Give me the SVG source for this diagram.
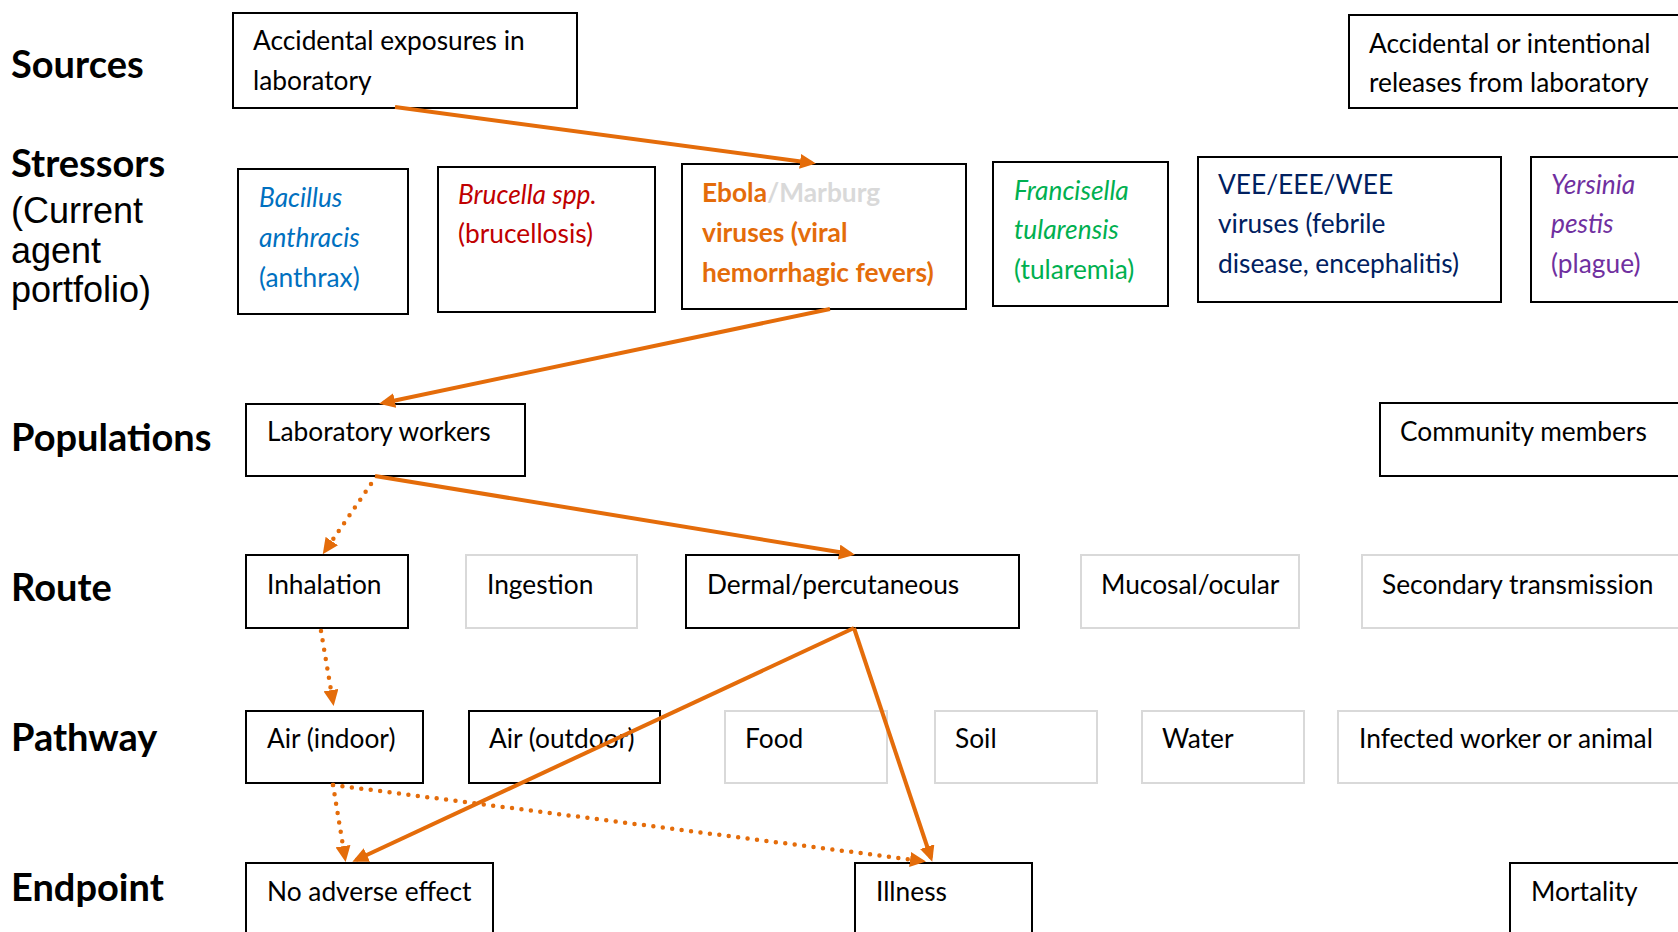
<svg xmlns="http://www.w3.org/2000/svg" width="1678" height="932" viewBox="0 0 1678 932">
  <style>
    .row { font-family: Lato, "Open Sans", sans-serif; font-weight: 700; font-size: 38px; fill: #000; }
    .sub { font-family: "Liberation Sans", Arial, sans-serif; font-size: 36px; fill: #000; }
    .t { font-family: Lato, "Open Sans", sans-serif; font-size: 26.3px; }
    .k { fill: #000; }
    .blue { fill: #0070c0; }
    .red { fill: #c00000; }
    .orange { fill: #e46c0a; font-weight: 700; }
    .grey { fill: #d9d9d9; }
    .green { fill: #00b050; }
    .navy { fill: #002060; }
    .purple { fill: #7030a0; }
    .it { font-style: italic; }
    .box { fill: #fff; stroke: #000; stroke-width: 2; }
    .gbox { fill: #fff; stroke: #d9d9d9; stroke-width: 2; }
    .solid { fill: none; stroke: #e46c0a; stroke-width: 4; marker-end: url(#head); }
    .dots { fill: none; stroke: #e46c0a; stroke-width: 4.5; stroke-linecap: round; stroke-dasharray: 0 9.5; marker-end: url(#head); }
  </style>
  <defs>
    <marker id="head" markerUnits="userSpaceOnUse" markerWidth="17" markerHeight="15" refX="12" refY="7.5" orient="auto">
      <path d="M0,0 L16,7.5 L0,15 z" fill="#e46c0a"/>
    </marker>
  </defs>

  <rect width="1678" height="932" fill="#fff"/>

  <!-- Row headings -->
  <g id="headings">
    <text class="row" x="11" y="78">Sources</text>
    <text class="row" x="11" y="177">Stressors</text>
    <text class="sub" x="11" y="223">(Current</text>
    <text class="sub" x="11" y="263">agent</text>
    <text class="sub" x="11" y="302">portfolio)</text>
    <text class="row" x="11" y="451">Populations</text>
    <text class="row" x="11" y="601">Route</text>
    <text class="row" x="11" y="751">Pathway</text>
    <text class="row" x="11" y="901">Endpoint</text>
  </g>

  <!-- Sources -->
  <g id="src-lab-exposure">
    <rect class="box" x="233" y="13" width="344" height="95"/>
    <text class="t k" x="253" y="50">Accidental exposures in</text>
    <text class="t k" x="253" y="90">laboratory</text>
  </g>
  <g id="src-lab-release">
    <rect class="box" x="1349" y="15" width="340" height="93"/>
    <text class="t k" x="1369" y="53">Accidental or intentional</text>
    <text class="t k" x="1369" y="92">releases from laboratory</text>
  </g>

  <!-- Stressors -->
  <g id="str-anthrax">
    <rect class="box" x="238" y="169" width="170" height="145"/>
    <text class="t blue it" x="259" y="207">Bacillus</text>
    <text class="t blue it" x="259" y="247">anthracis</text>
    <text class="t blue" x="259" y="287">(anthrax)</text>
  </g>
  <g id="str-brucella">
    <rect class="box" x="438" y="167" width="217" height="145"/>
    <text class="t red it" x="458" y="204">Brucella spp.</text>
    <text class="t red" x="458" y="243">(brucellosis)</text>
  </g>
  <g id="str-ebola">
    <rect class="box" x="682" y="164" width="284" height="145"/>
    <text class="t orange" x="702" y="202">Ebola<tspan class="grey">/Marburg</tspan></text>
    <text class="t orange" x="702" y="242">viruses (viral</text>
    <text class="t orange" x="702" y="282">hemorrhagic fevers)</text>
  </g>
  <g id="str-francisella">
    <rect class="box" x="993" y="162" width="175" height="144"/>
    <text class="t green it" x="1014" y="200">Francisella</text>
    <text class="t green it" x="1014" y="239">tularensis</text>
    <text class="t green" x="1014" y="279">(tularemia)</text>
  </g>
  <g id="str-vee">
    <rect class="box" x="1198" y="157" width="303" height="145"/>
    <text class="t navy" x="1218" y="194">VEE/EEE/WEE</text>
    <text class="t navy" x="1218" y="233">viruses (febrile</text>
    <text class="t navy" x="1218" y="273">disease, encephalitis)</text>
  </g>
  <g id="str-yersinia">
    <rect class="box" x="1531" y="157" width="160" height="145"/>
    <text class="t purple it" x="1551" y="194">Yersinia</text>
    <text class="t purple it" x="1551" y="233">pestis</text>
    <text class="t purple" x="1551" y="273">(plague)</text>
  </g>

  <!-- Populations -->
  <g id="pop-lab-workers">
    <rect class="box" x="246" y="404" width="279" height="72"/>
    <text class="t k" x="267" y="441">Laboratory workers</text>
  </g>
  <g id="pop-community">
    <rect class="box" x="1380" y="403" width="310" height="73"/>
    <text class="t k" x="1400" y="441">Community members</text>
  </g>

  <!-- Routes -->
  <g id="route-inhalation">
    <rect class="box" x="246" y="555" width="162" height="73"/>
    <text class="t k" x="267" y="594">Inhalation</text>
  </g>
  <g id="route-ingestion">
    <rect class="gbox" x="466" y="555" width="171" height="73"/>
    <text class="t k" x="487" y="594">Ingestion</text>
  </g>
  <g id="route-dermal">
    <rect class="box" x="686" y="555" width="333" height="73"/>
    <text class="t k" x="707" y="594">Dermal/percutaneous</text>
  </g>
  <g id="route-mucosal">
    <rect class="gbox" x="1081" y="555" width="218" height="73"/>
    <text class="t k" x="1101" y="594">Mucosal/ocular</text>
  </g>
  <g id="route-secondary">
    <rect class="gbox" x="1362" y="555" width="330" height="73"/>
    <text class="t k" x="1382" y="594">Secondary transmission</text>
  </g>

  <!-- Pathways -->
  <g id="path-air-indoor">
    <rect class="box" x="246" y="711" width="177" height="72"/>
    <text class="t k" x="267" y="748">Air (indoor)</text>
  </g>
  <g id="path-air-outdoor">
    <rect class="box" x="469" y="711" width="191" height="72"/>
    <text class="t k" x="489" y="748">Air (outdoor)</text>
  </g>
  <g id="path-food">
    <rect class="gbox" x="725" y="711" width="162" height="72"/>
    <text class="t k" x="745" y="748">Food</text>
  </g>
  <g id="path-soil">
    <rect class="gbox" x="935" y="711" width="162" height="72"/>
    <text class="t k" x="955" y="748">Soil</text>
  </g>
  <g id="path-water">
    <rect class="gbox" x="1142" y="711" width="162" height="72"/>
    <text class="t k" x="1162" y="748">Water</text>
  </g>
  <g id="path-infected">
    <rect class="gbox" x="1338" y="711" width="354" height="72"/>
    <text class="t k" x="1359" y="748">Infected worker or animal</text>
  </g>

  <!-- Endpoints -->
  <g id="end-none">
    <rect class="box" x="246" y="863" width="247" height="90"/>
    <text class="t k" x="267" y="901">No adverse effect</text>
  </g>
  <g id="end-illness">
    <rect class="box" x="855" y="863" width="177" height="90"/>
    <text class="t k" x="876" y="901">Illness</text>
  </g>
  <g id="end-mortality">
    <rect class="box" x="1510" y="863" width="180" height="90"/>
    <text class="t k" x="1531" y="901">Mortality</text>
  </g>

  <!-- Connectors -->
  <g id="connectors">
    <line class="solid" x1="395" y1="107" x2="812" y2="163"/>
    <line class="solid" x1="830" y1="309" x2="383" y2="403"/>
    <line class="solid" x1="375" y1="476" x2="851" y2="554"/>
    <line class="solid" x1="854" y1="628" x2="356" y2="860"/>
    <line class="solid" x1="854" y1="628" x2="931" y2="858"/>
    <line class="dots" x1="371" y1="484" x2="325" y2="551"/>
    <line class="dots" x1="321" y1="631" x2="333" y2="702"/>
    <line class="dots" x1="333" y1="785" x2="345" y2="858"/>
    <line class="dots" x1="333" y1="785" x2="922" y2="861"/>
  </g>
</svg>
